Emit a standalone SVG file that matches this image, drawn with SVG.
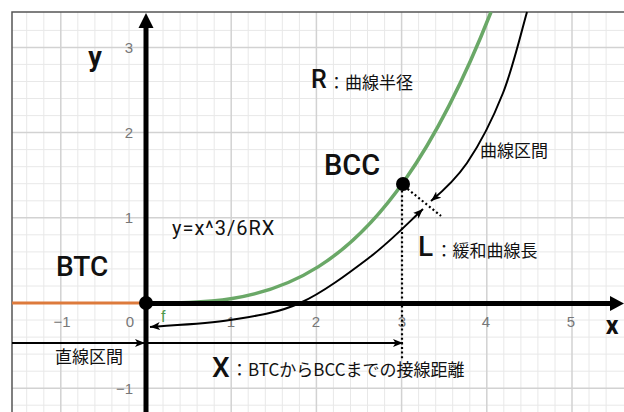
<svg xmlns="http://www.w3.org/2000/svg" width="624" height="412" viewBox="0 0 624 412">
<style>
.minor{stroke:#e8e8e8;stroke-width:1;fill:none}
.major{stroke:#d2d2d2;stroke-width:1.5;fill:none}
.tick{font-family:"Liberation Sans",Arial,sans-serif;font-size:15px;fill:#777}
.big{font-family:Roboto,"Liberation Sans",sans-serif;font-weight:500;fill:#111}
.axl{font-family:Roboto,"Liberation Sans",sans-serif;font-weight:bold;fill:#111}
.jp{font-family:"Noto Sans CJK JP",sans-serif;font-size:17px;fill:#111}
.conn{stroke:#000;stroke-width:2;fill:none}
.dot{stroke:#000;stroke-width:2.2;fill:none;stroke-dasharray:2 2.6}
</style>
<defs>
<marker id="ah" viewBox="0 0 10 8" refX="10" refY="4" markerWidth="10" markerHeight="8" markerUnits="userSpaceOnUse" orient="auto-start-reverse">
<path d="M0,0 L10,4 L0,8 L2.5,4 z" fill="#000"/>
</marker>
</defs>
<rect width="624" height="412" fill="#fff"/>
<g id="grid">
<path class="minor" d="M26.7 12V412M43.8 12V412M77.8 12V412M94.9 12V412M111.9 12V412M129 12V412M163 12V412M180.1 12V412M197.1 12V412M214.2 12V412M248.2 12V412M265.3 12V412M282.3 12V412M299.4 12V412M333.4 12V412M350.5 12V412M367.5 12V412M384.6 12V412M418.6 12V412M435.7 12V412M452.7 12V412M469.8 12V412M503.8 12V412M520.9 12V412M537.9 12V412M555 12V412M589 12V412M606.1 12V412M12 30.4H624M12 64.4H624M12 81.5H624M12 98.5H624M12 115.6H624M12 149.6H624M12 166.7H624M12 183.7H624M12 200.8H624M12 234.8H624M12 251.9H624M12 268.9H624M12 286H624M12 320H624M12 337.1H624M12 354.1H624M12 371.2H624M12 405.2H624"/>
<path class="major" d="M60.8 12V412M231.2 12V412M316.4 12V412M401.6 12V412M486.8 12V412M572 12V412M12 47.4H624M12 132.6H624M12 217.8H624M12 388.2H624"/>
<path d="M12 412V12H624" stroke="#555" stroke-width="1.5" fill="none"/>
</g>
<g id="axes">
<path d="M12 303H146" stroke="#dd7a3c" stroke-width="3.2"/>
<path d="M146 303C261 303 376 303 491 12" stroke="#6aa867" stroke-width="3.5" fill="none"/>
<path d="M146 303.5H612" stroke="#000" stroke-width="5"/>
<polygon points="610,296 624,303.5 610,311" fill="#000"/>
<path d="M146 412V26" stroke="#000" stroke-width="5"/>
<polygon points="138.5,28 146,13 153.5,28" fill="#000"/>
</g>
<g id="ticks">
<text class="tick" x="62" y="327" text-anchor="middle">−1</text>
<text class="tick" x="130" y="327" text-anchor="middle">0</text>
<text class="tick" x="231" y="327" text-anchor="middle">1</text>
<text class="tick" x="316" y="327" text-anchor="middle">2</text>
<text class="tick" x="402" y="327" text-anchor="middle">3</text>
<text class="tick" x="486" y="327" text-anchor="middle">4</text>
<text class="tick" x="571" y="327" text-anchor="middle">5</text>
<text class="tick" x="133" y="52.5" text-anchor="end">3</text>
<text class="tick" x="133" y="137.8" text-anchor="end">2</text>
<text class="tick" x="133" y="223" text-anchor="end">1</text>
<text class="tick" x="133" y="393.5" text-anchor="end">−1</text>
<text class="axl" x="95" y="66" font-size="27" text-anchor="middle">y</text>
<text class="axl" x="612" y="334" font-size="25" text-anchor="middle">x</text>
</g>
<g id="connectors">
<path class="conn" d="M527 12C523 25.5 513 67.8 503 93C493 118.2 480.3 143.5 467 163C458 176 443 191 431 201" marker-end="url(#ah)"/>
<path class="conn" d="M150 327C163.3 325.8 205 324 230 320C255 316 276.7 313.5 300 303C323.3 292.5 349.5 272.5 370 257C390.5 241.5 407 224 423 209" marker-start="url(#ah)" marker-end="url(#ah)"/>
<path class="dot" d="M402 186V359"/>
<path class="dot" d="M404 186L441 216"/>
<path class="conn" d="M12 343H145" marker-end="url(#ah)"/>
<path class="conn" d="M146 343H403" marker-end="url(#ah)"/>
</g>
<g id="BTC">
<circle cx="146" cy="303" r="7" fill="#000"/>
<text class="big" x="56" y="276" font-size="28">BTC</text>
</g>
<g id="BCC">
<circle cx="403" cy="184" r="7" fill="#000"/>
<text class="big" x="324" y="175" font-size="29">BCC</text>
</g>
<g id="label-R">
<text><tspan class="big" x="311" y="88" font-size="25">R</tspan><tspan class="jp" x="328" y="89">：曲線半径</tspan></text>
</g>
<g id="label-curve">
<text class="jp" x="480" y="157">曲線区間</text>
</g>
<g id="label-eq">
<text x="172" y="235" font-family="Roboto,'Liberation Sans',sans-serif" font-size="20" letter-spacing="1" fill="#111">y=x^3/6RX</text>
</g>
<g id="label-L">
<text><tspan class="big" x="418" y="256" font-size="28">L</tspan><tspan class="jp" x="435.5" y="257">：緩和曲線長</tspan></text>
</g>
<g id="label-straight">
<text class="jp" x="55" y="363">直線区間</text>
</g>
<g id="label-X">
<text><tspan class="big" x="212" y="377" font-size="28">X</tspan><tspan class="jp" x="231" y="376" font-size="18">：BTCからBCCまでの接線距離</tspan></text>
</g>
<g id="label-f">
<text x="161" y="322" font-family="'Liberation Sans',sans-serif" font-size="16" fill="#4e9a4a">f</text>
</g>
</svg>
